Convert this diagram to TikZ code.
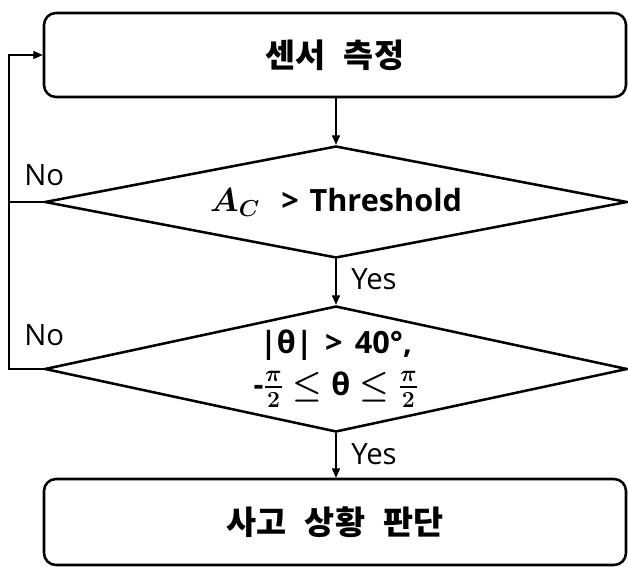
\documentclass[tikz,border=0pt]{standalone}
\usepackage{amsmath}
\usepackage{fontspec}
\setmainfont{Open Sans}
\newfontfamily\kr{Noto Sans CJK KR}
\usetikzlibrary{shapes.geometric,arrows.meta}
\newcommand{\wsp}{\hspace{0.55em}}
\begin{document}
\begin{tikzpicture}[x=0.75pt,y=-0.75pt,
  procbox/.style={draw, line width=1.9pt, rounded corners=9pt, minimum width=436.5pt, inner sep=0pt,
    font=\kr\bfseries\fontsize{24.5}{28}\selectfont},
  decbox/.style={draw, diamond, line width=1.9pt, minimum width=437pt, inner sep=0pt, align=center,
    font=\bfseries\fontsize{23}{28}\selectfont},
  conn/.style={line width=0.8pt, -{Triangle[length=7pt,width=6pt]}},
  plainline/.style={line width=0.8pt},
  lbl/.style={anchor=base west, inner sep=0pt, font=\fontsize{22}{26}\selectfont}]
\useasboundingbox (0,0) rectangle (628,567);
\node[procbox, minimum height=63pt] (top) at (335,55) {센서\wsp 측정};
\node[decbox, aspect=5, minimum height=84pt] (d1) at (336,202) {$\boldsymbol{A_C}$\hspace{0.7em}>\hspace{0.35em}Threshold};
\node[decbox, aspect=4.6, minimum height=94.5pt] (d2) at (336,369) {|θ|\hspace{0.4em}>\hspace{0.4em}40°,\\[3pt] -$\boldsymbol{\frac{\pi}{2}}$\hspace{0.3em}$\boldsymbol{\leq}$\hspace{0.3em}θ\hspace{0.3em}$\boldsymbol{\leq}$\hspace{0.3em}$\boldsymbol{\frac{\pi}{2}}$};
\node[procbox, minimum height=64.5pt] (bot) at (335,522) {사고\wsp 상황\wsp 판단};
\coordinate (lx) at (9,369);
\draw[conn] (top.south -| d1.north) -- (d1.north);
\draw[conn] (d1.south) -- (d2.north);
\draw[conn] (d2.south) -- (d2.south |- bot.north);
\draw[conn] (d2.west) -- (lx) |- (top.west);
\draw[plainline] (d1.west) -- (d1.west -| lx);
\node[lbl] (no1) at (24,185) {No};
\node[lbl] (no2) at (24,345) {No};
\node[lbl] (yes1) at (351,289) {Yes};
\node[lbl] (yes2) at (351,464) {Yes};
\end{tikzpicture}
\end{document}
